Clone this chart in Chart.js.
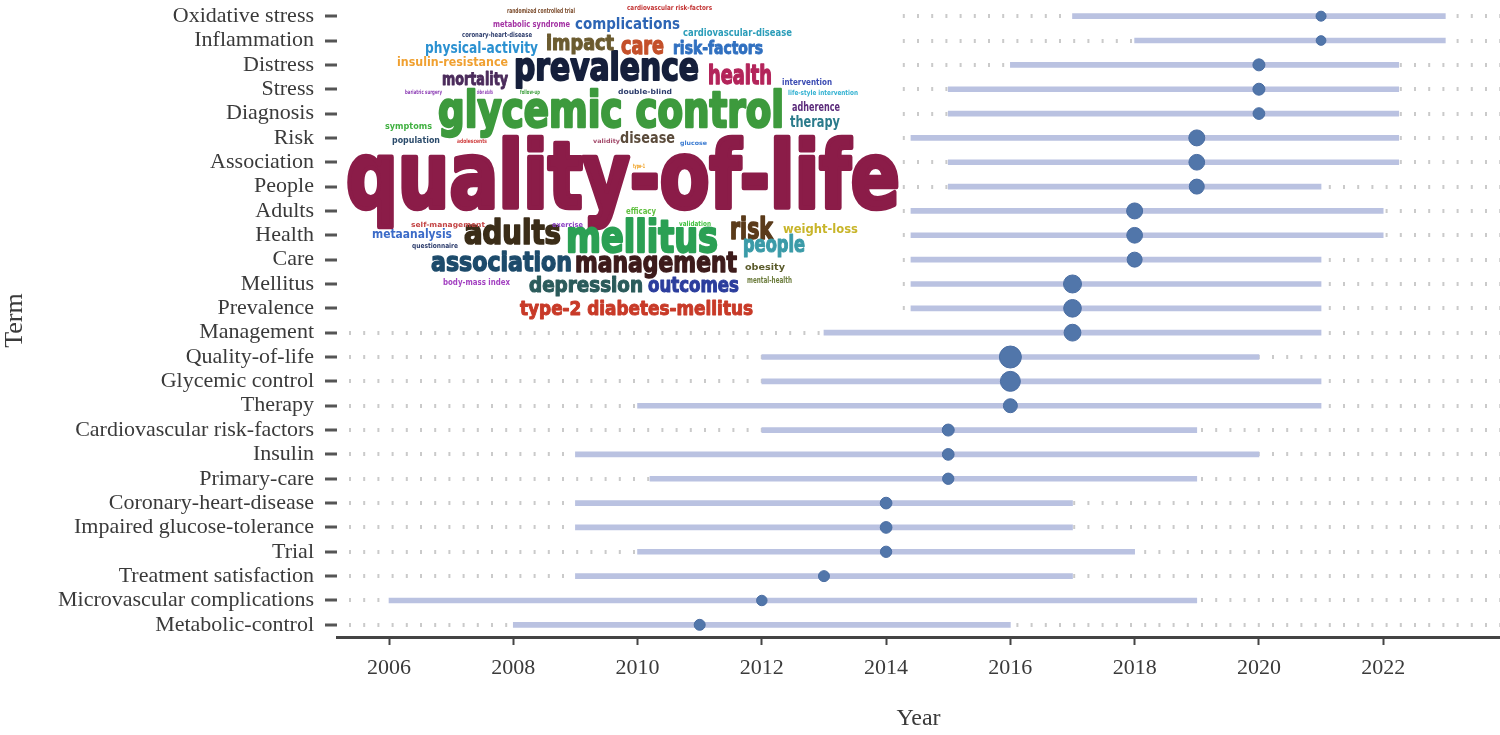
<!DOCTYPE html>
<html>
<head>
<meta charset="utf-8">
<script src="https://cdn.jsdelivr.net/npm/chart.js@4.4.1/dist/chart.umd.min.js"></script>
<style>
html,body{margin:0;padding:0;background:#fff;overflow:hidden;}
canvas{display:block;}
</style>
</head>
<body>
<canvas id="c" width="1500" height="735"></canvas>
<script>
// ---------------- DATA ----------------
const terms = [
  "Oxidative stress","Inflammation","Distress","Stress","Diagnosis","Risk","Association","People",
  "Adults","Health","Care","Mellitus","Prevalence","Management","Quality-of-life","Glycemic control",
  "Therapy","Cardiovascular risk-factors","Insulin","Primary-care","Coronary-heart-disease",
  "Impaired glucose-tolerance","Trial","Treatment satisfaction","Microvascular complications","Metabolic-control"
];
const q1Year = [2017,2018,2016,2015,2015,2014.4,2015,2015,2014.4,2014.4,2014.4,2014.4,2014.4,2013,2012,2012,2010,2012,2009,2010.2,2009,2009,2010,2009,2006,2008];
const medianYear = [2021,2021,2020,2020,2020,2019,2019,2019,2018,2018,2018,2017,2017,2017,2016,2016,2016,2015,2015,2015,2014,2014,2014,2013,2012,2011];
const q3Year = [2023,2023,2022.25,2022.25,2022.25,2022.25,2022.25,2021,2022,2022,2021,2021,2021,2021,2020,2021,2021,2019,2020,2019,2017,2017,2018,2017,2019,2016];
const termFreq = [25,22,49,49,45,121,115,100,121,115,100,169,160,140,289,225,81,49,45,40,45,45,40,36,30,36];
const yearTicks = [2006,2008,2010,2012,2014,2016,2018,2020,2022];

const cloudWords = [
  "quality-of-life","glycemic control","prevalence","mellitus","adults","association","management",
  "depression","outcomes","type-2 diabetes-mellitus","risk","people","health","care","impact",
  "complications","risk-factors","physical-activity","insulin-resistance","mortality","therapy",
  "adherence","disease","metaanalysis","weight-loss","cardiovascular-disease","intervention",
  "population","symptoms","obesity","mental-health","body-mass index","randomized controlled trial",
  "metabolic syndrome","coronary-heart-disease","cardiovascular risk-factors","bariatric surgery",
  "older adults","follow-up","double-blind","life-style intervention","questionnaire",
  "self-management","exercise","validation","efficacy","type-1","adolescents","validity","glucose"
];

// ---------------- LAYOUT / STYLE ----------------
// [left, baseline, right, fontSize, color]
const cloudLayout = [
  [346,208,900,92,"#8b1c48"],
  [438,127,784,49,"#3d9a3d"],
  [514,80,699,37,"#151f3b"],
  [566,252,718,45,"#2ba054"],
  [464,244,561,34,"#3b2d18"],
  [431,271,572,27,"#1d4b6b"],
  [575,272,737,29,"#3d1b1b"],
  [529,292,643,21,"#2b5b5b"],
  [648,292,739,21,"#2b3d9d"],
  [520,315,753,19,"#c83a28"],
  [730,239,773,30,"#5b3b1b"],
  [743,252,805,23,"#3b9ba8"],
  [708,84,772,27,"#b3245a"],
  [621,54,664,25,"#c4502a"],
  [546,50,614,21,"#6b5b2f"],
  [575,29,680,15,"#2d65b5"],
  [673,54,763,18,"#3070c0"],
  [425,53,538,15,"#2b91d1"],
  [397,66,508,12,"#f0a030"],
  [442,85,508,18,"#4b2b5b"],
  [790,127,840,16,"#2b7b8b"],
  [792,111,840,12,"#5b2b7b"],
  [620,143,675,15,"#5b4b3b"],
  [372,238,452,13,"#3b6bc8"],
  [783,233,858,12,"#c8b52a"],
  [683,36,792,10,"#2b9db9"],
  [782,85,832,9,"#3b4bb3"],
  [392,143,440,9,"#2b4b6b"],
  [385,129,432,8,"#41b141"],
  [745,270,785,9,"#5b5b2b"],
  [747,283,792,8,"#6b7b3b"],
  [443,285,510,8,"#a341c1"],
  [507,13,575,7,"#7b4b2b"],
  [493,27,570,8,"#a331a3"],
  [462,37,532,7,"#2b3b6b"],
  [627,10,712,7,"#c33333"],
  [405,94,442,6,"#8b3bb3"],
  [477,94,493,6,"#8b3bb3"],
  [520,94,540,6,"#41a141"],
  [618,94,672,7,"#2b3b6b"],
  [788,95,858,7,"#31b1d1"],
  [412,248,458,7,"#2b3b6b"],
  [411,227,485,7,"#c34343"],
  [552,227,583,7,"#8b41c3"],
  [679,226,711,7,"#41c141"],
  [626,214,656,8,"#61c141"],
  [633,168,645,6,"#f0a020"],
  [457,143,487,6,"#d14141"],
  [593,143,620,6,"#a34b6b"],
  [680,145,707,6,"#3b7bd1"]
];
const cloudFont = "'Liberation Sans Narrow','DejaVu Sans Condensed','Liberation Sans',sans-serif";
const cloudBox = {x: 340, y: 0, w: 561, h: 322};

const serif = "'Liberation Serif','Times New Roman',serif";
const textColor = "#3a3a3a";

const wordCloudPlugin = {
  id: 'wordCloud',
  afterDatasetsDraw(chart) {
    const ctx = chart.ctx;
    ctx.save();
    ctx.fillStyle = '#ffffff';
    ctx.fillRect(cloudBox.x, cloudBox.y, cloudBox.w, cloudBox.h);
    ctx.textBaseline = 'alphabetic';
    ctx.textAlign = 'left';
    ctx.lineJoin = 'round';
    cloudWords.forEach((w, i) => {
      const [left, base, right, size, color] = cloudLayout[i];
      ctx.font = `bold ${size}px ${cloudFont}`;
      const mw = ctx.measureText(w).width;
      ctx.save();
      ctx.translate(left, base);
      ctx.scale((right - left) / mw, 1);
      ctx.fillStyle = color;
      ctx.fillText(w, 0, 0);
      if (size >= 18) {
        ctx.strokeStyle = color;
        ctx.lineWidth = size * 0.05;
        ctx.strokeText(w, 0, 0);
      }
      ctx.restore();
    });
    ctx.restore();
  }
};

const radiusOf = f => 2.5 + 0.5 * Math.sqrt(f);

new Chart(document.getElementById('c'), {
  type: 'bar',
  data: {
    labels: terms,
    datasets: [
      {
        type: 'scatter',
        order: 0,
        data: terms.map((t, i) => ({x: medianYear[i], y: t})),
        pointRadius: termFreq.map(radiusOf),
        pointHoverRadius: termFreq.map(radiusOf),
        backgroundColor: '#5176aa',
        borderColor: '#4a6da2',
        borderWidth: 1,
        clip: false
      },
      {
        type: 'bar',
        order: 1,
        indexAxis: 'y',
        data: terms.map((t, i) => [q1Year[i], q3Year[i]]),
        backgroundColor: '#bac2e1',
        borderWidth: 0,
        barThickness: 5
      }
    ]
  },
  options: {
    indexAxis: 'y',
    responsive: false,
    animation: false,
    devicePixelRatio: 1,
    layout: {autoPadding: false, padding: {top: 4, right: 0, left: 0, bottom: 0}},
    plugins: {legend: {display: false}, tooltip: {enabled: false}},
    scales: {
      x: {
        type: 'linear',
        min: 2005.163,
        max: 2023.88,
        afterBuildTicks: s => { s.ticks = yearTicks.map(v => ({value: v})); },
        afterFit: s => { s.height = 98; s.paddingLeft = 0; s.paddingRight = 0; },
        grid: {drawOnChartArea: false, drawTicks: true, tickLength: 8, tickColor: '#444', tickWidth: 2},
        border: {display: true, color: '#444', width: 3},
        ticks: {padding: 10, color: textColor, font: {family: serif, size: 22}, maxRotation: 0,
                callback: v => String(v)},
        title: {display: true, text: 'Year', color: textColor, font: {family: serif, size: 24},
                padding: {top: 0, bottom: 2}}
      },
      y: {
        type: 'category',
        offset: true,
        afterFit: s => { s.width = 337; s.paddingTop = 0; s.paddingBottom = 0; },
        grid: {offset: false, drawOnChartArea: true, color: '#cacaca', lineWidth: 4,
               drawTicks: true, tickLength: 12, tickColor: '#555', tickWidth: 3},
        border: {display: false, dash: [2, 12.2], dashOffset: 2.2},
        ticks: {padding: 11, color: textColor, font: {family: serif, size: 22}, autoSkip: false},
        title: {display: true, text: 'Term', color: textColor, font: {family: serif, size: 26},
                padding: {top: 0, bottom: 0}}
      }
    }
  },
  plugins: [wordCloudPlugin]
});
</script>
</body>
</html>
